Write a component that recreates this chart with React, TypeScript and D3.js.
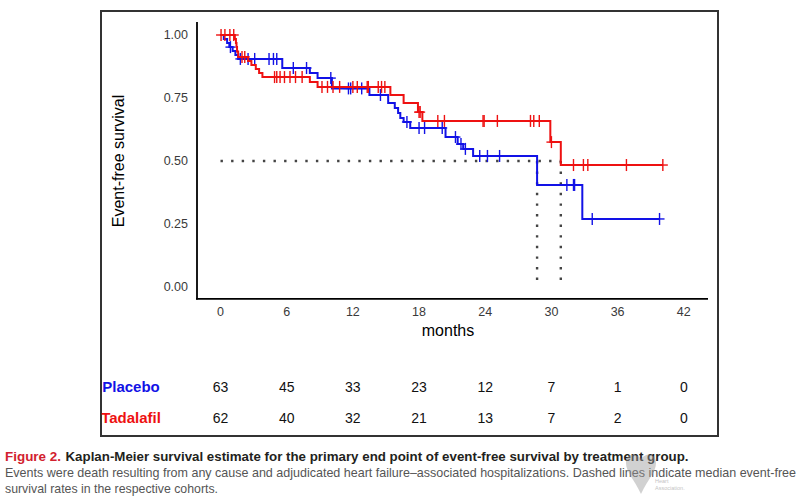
import React from "react";
import * as d3 from "d3";

// Kaplan-Meier step points: [month, survival after the event]
const placeboEvents: [number, number][] = [
  [0.3, 0.984], [0.6, 0.968], [0.8, 0.952], [1.1, 0.937], [1.35, 0.921], [1.6, 0.905],
  [5.6, 0.869], [8.1, 0.849], [8.8, 0.829], [10.1, 0.788], [13.5, 0.762],
  [15.2, 0.73], [15.8, 0.71], [16.1, 0.69], [16.3, 0.671], [16.6, 0.655], [17.2, 0.631],
  [20.4, 0.595], [21.5, 0.567], [22.0, 0.548], [22.9, 0.52], [28.7, 0.405], [32.8, 0.27],
];
const placeboCensored: number[] = [
  0.9, 1.8, 2.5, 3.1, 4.4, 4.8, 5.1, 6.6, 7.8, 10.0, 11.6, 11.8, 12.8, 14.5, 16.9,
  18.0, 18.5, 20.1, 21.3, 21.8, 22.2, 23.5, 24.2, 25.3, 31.4, 32.0, 32.1, 33.7, 39.8,
];
const placeboEnd = 39.8;

const tadalafilEvents: [number, number][] = [
  [1.3, 0.984], [1.4, 0.968], [1.45, 0.952], [1.5, 0.935], [1.6, 0.913],
  [2.5, 0.897], [2.8, 0.881], [3.2, 0.865], [3.5, 0.849], [3.8, 0.833],
  [8.1, 0.813], [8.8, 0.794], [15.4, 0.762], [16.6, 0.73], [17.9, 0.694], [18.3, 0.659],
  [29.9, 0.575], [30.85, 0.484],
];
const tadalafilCensored: number[] = [
  0.05, 0.4, 0.85, 1.2, 1.95, 2.2, 4.9, 5.1, 5.4, 5.8, 6.3, 6.8, 7.4,
  9.2, 9.7, 10.2, 10.8, 12.0, 12.4, 13.3, 13.4, 14.3, 14.6, 14.9,
  18.0, 18.1, 19.7, 20.3, 23.8, 23.9, 25.1, 28.1, 28.4, 28.9, 30.0,
  32.0, 32.9, 33.3, 36.8, 40.1,
];
const tadalafilEnd = 40.1;

// Median survival times (where each curve crosses 0.5)
const placeboMedian = 28.7;
const tadalafilMedian = 30.85;

const xTicks = [0, 6, 12, 18, 24, 30, 36, 42];
const yTicks = [0, 0.25, 0.5, 0.75, 1];
const placeboAtRisk = [63, 45, 33, 23, 12, 7, 1, 0];
const tadalafilAtRisk = [62, 40, 32, 21, 13, 7, 2, 0];

const BLUE = "#1212e6";
const RED = "#ee1111";
const FONT = "'Liberation Sans', Arial, sans-serif";

const x = d3.scaleLinear().domain([0, 42]).range([220.5, 683.8]);
const y = d3.scaleLinear().domain([0, 1]).range([287, 35]);

const stepLine = d3
  .line<[number, number]>()
  .x((d) => x(d[0]))
  .y((d) => y(d[1]))
  .curve(d3.curveStepAfter);

function survivalAt(events: [number, number][], t: number) {
  let s = 1;
  for (const [time, v] of events) if (time <= t) s = v;
  return s;
}

function Curve({ events, censored, end, color }: { events: [number, number][]; censored: number[]; end: number; color: string }) {
  const pts: [number, number][] = [[0, 1], ...events, [end, events[events.length - 1][1]]];
  return (
    <g>
      <path d={stepLine(pts) ?? ""} fill="none" stroke={color} strokeWidth={2} />
      {censored.map((t, i) => {
        const cx = x(t);
        const cy = y(survivalAt(events, t));
        return (
          <g key={i} stroke={color} strokeWidth={1.4}>
            <line x1={cx} x2={cx} y1={cy - 6} y2={cy + 6} />
            <line x1={cx - 5} x2={cx + 5} y1={cy} y2={cy} />
          </g>
        );
      })}
    </g>
  );
}

export default function App() {
  const dot = { stroke: "#444", strokeWidth: 2.4, strokeDasharray: "2.4 8.2", fill: "none" } as const;
  return (
    <svg
      width={803}
      height={500}
      style={{ position: "absolute", left: 0, top: 0, background: "#fff" }}
      fontFamily={FONT}
    >
      <rect x={101} y={11} width={617} height={425} fill="#fff" stroke="#333" strokeWidth={2} />

      {/* median reference lines */}
      <line x1={x(0)} x2={x(tadalafilMedian)} y1={y(0.5)} y2={y(0.5)} {...dot} />
      <line x1={x(placeboMedian)} x2={x(placeboMedian)} y1={y(0.5)} y2={y(0)} {...dot} />
      <line x1={x(tadalafilMedian)} x2={x(tadalafilMedian)} y1={y(0.5)} y2={y(0)} {...dot} />

      <Curve events={placeboEvents} censored={placeboCensored} end={placeboEnd} color={BLUE} />
      <Curve events={tadalafilEvents} censored={tadalafilCensored} end={tadalafilEnd} color={RED} />

      {/* axes */}
      <line x1={197} x2={197} y1={22} y2={299.5} stroke="#000" strokeWidth={1.8} />
      <line x1={196} x2={708} y1={298.8} y2={298.8} stroke="#000" strokeWidth={1.8} />
      {yTicks.map((t) => (
        <text key={t} x={188} y={y(t)} dy="0.35em" textAnchor="end" fontSize={12.5} fill="#3a3a3a">
          {t.toFixed(2)}
        </text>
      ))}
      {xTicks.map((t) => (
        <text key={t} x={x(t)} y={312} dy="0.35em" textAnchor="middle" fontSize={12.5} fill="#3a3a3a">
          {t}
        </text>
      ))}
      <text x={448} y={330} dy="0.35em" textAnchor="middle" fontSize={16} fill="#000">
        months
      </text>
      <text transform="translate(118,161) rotate(-90)" dy="0.35em" textAnchor="middle" fontSize={16} fill="#000">
        Event-free survival
      </text>

      {/* number at risk */}
      <text x={131} y={387} dy="0.35em" textAnchor="middle" fontSize={15} fontWeight="bold" fill={BLUE}>
        Placebo
      </text>
      <text x={131} y={418} dy="0.35em" textAnchor="middle" fontSize={15} fontWeight="bold" fill={RED}>
        Tadalafil
      </text>
      {xTicks.map((t, i) => (
        <g key={t} fontSize={14} fill="#111" textAnchor="middle">
          <text x={x(t)} y={387} dy="0.35em">{placeboAtRisk[i]}</text>
          <text x={x(t)} y={418} dy="0.35em">{tadalafilAtRisk[i]}</text>
        </g>
      ))}

      {/* caption */}
      <text x={5} y={460.5} fontSize={13.5} fontWeight="bold" fill="#d2202e" textLength={56} lengthAdjust="spacingAndGlyphs">
        Figure 2.
      </text>
      <text x={65.5} y={460.5} fontSize={13.5} fontWeight="bold" fill="#231f20" textLength={623} lengthAdjust="spacingAndGlyphs">
        Kaplan-Meier survival estimate for the primary end point of event-free survival by treatment group.
      </text>
      <text x={5} y={476.5} fontSize={12.6} fill="#555" textLength={791} lengthAdjust="spacingAndGlyphs">
        Events were death resulting from any cause and adjudicated heart failure–associated hospitalizations. Dashed lines indicate median event-free
      </text>
      <text x={5} y={492.5} fontSize={12.6} fill="#555" textLength={213} lengthAdjust="spacingAndGlyphs">
        survival rates in the respective cohorts.
      </text>

      {/* faint society mark */}
      <g opacity={0.45}>
        <path
          d="M641,459 C636,452 626,453 626,463 C626,472 634,479 641,494 C648,479 656,472 656,463 C656,453 646,452 641,459 Z"
          fill="#9a9a9a"
        />
        <text x={655} y={483} fontSize={5.5} fill="#777">Heart</text>
        <text x={655} y={489.5} fontSize={5.5} fill="#777">Association.</text>
      </g>
    </svg>
  );
}
